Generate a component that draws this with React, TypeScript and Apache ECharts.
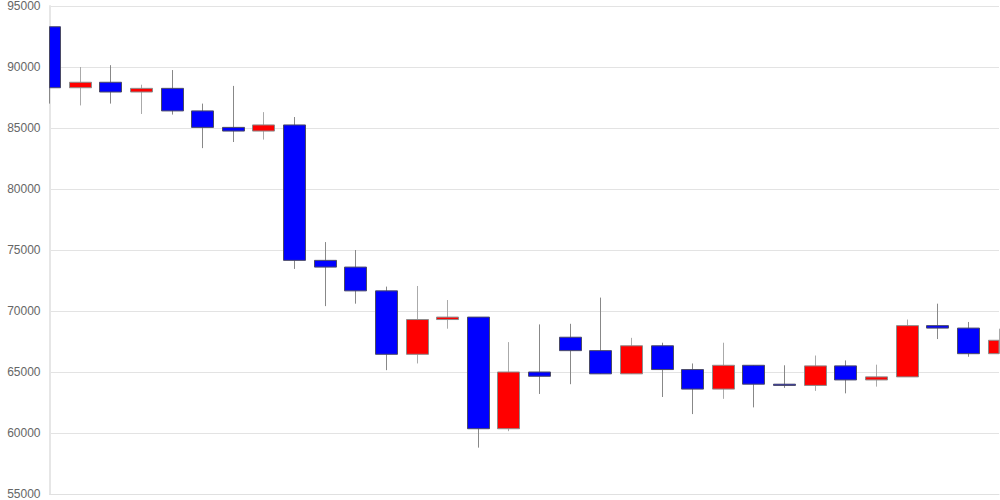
import React, { useEffect, useRef } from "react";
import * as echarts from "echarts";

const categories: string[] = [
  "1", "2", "3", "4", "5", "6", "7", "8", "9", "10",
  "11", "12", "13", "14", "15", "16", "17", "18", "19", "20",
  "21", "22", "23", "24", "25", "26", "27", "28", "29", "30",
  "31", "32",
];

const openValues: number[] = [
  93300, 88300, 88750, 87950, 88250, 86400, 85050, 84750, 85250, 74150,
  73600, 71650, 66450, 69300, 69500, 60350, 65000, 67850, 66750, 64850,
  67150, 65200, 63600, 65550, 64000, 63900, 65500, 64350, 64600, 68800,
  68600, 66500,
];
const closeValues: number[] = [
  88300, 88750, 87950, 88250, 86400, 85050, 84750, 85250, 74150, 73600,
  71650, 66450, 69300, 69500, 60350, 65000, 64650, 66750, 64850, 67150,
  65200, 63600, 65550, 64000, 63900, 65500, 64350, 64600, 68800, 68600,
  66500, 67600,
];
const lowValues: number[] = [
  87000, 86850, 87000, 86150, 86100, 83350, 83850, 84050, 73450, 70400,
  70600, 65150, 65700, 68550, 58800, 60150, 63200, 64000, 64850, 64850,
  62950, 61550, 62800, 62100, 63700, 63450, 63250, 63800, 64600, 67700,
  66250, 66500,
];
const highValues: number[] = [
  93300, 90000, 90150, 88550, 89750, 87000, 88450, 86300, 85900, 75650,
  75000, 72000, 72050, 70900, 69500, 67450, 68900, 68950, 71100, 67800,
  67400, 65700, 67400, 65550, 65550, 66350, 65950, 65600, 69300, 70600,
  69100, 68550,
];

const yMin = 55000;
const yMax = 95000;
const yInterval = 5000;

const UP_FILL = "#ff0000";
const DOWN_FILL = "#0000ff";
const UP_BORDER = "#8c8c8c";
const DOWN_BORDER = "#4a4a66";
const UP_WICK = "#aaaaaa";
const DOWN_WICK = "#888888";

export default function App() {
  const ref = useRef<HTMLDivElement>(null);

  useEffect(() => {
    if (!ref.current) return;
    const chart = echarts.init(ref.current, null, { renderer: "svg" });
    const data = categories.map((_, i) => [
      i,
      openValues[i],
      closeValues[i],
      lowValues[i],
      highValues[i],
    ]);

    const renderItem = (params: any, api: any) => {
      const xi = api.value(0);
      const open = api.value(1);
      const close = api.value(2);
      const low = api.value(3);
      const high = api.value(4);
      const pOpen = api.coord([xi, open]);
      const pClose = api.coord([xi, close]);
      const pLow = api.coord([xi, low]);
      const pHigh = api.coord([xi, high]);
      const cx = Math.round(pOpen[0] - 0.5) + 0.5;
      const w = 22;
      const up = close > open;
      const top = Math.min(pOpen[1], pClose[1]);
      const bottom = Math.max(pOpen[1], pClose[1]);
      const cs = params.coordSys;
      const bodyRaw = {
        x: cx - w / 2,
        y: top,
        width: w,
        height: Math.max(bottom - top, 1),
      };
      const body = echarts.graphic.clipRectByRect(bodyRaw, {
        x: cs.x,
        y: cs.y,
        width: cs.width,
        height: cs.height,
      });
      const children: any[] = [
        {
          type: "line",
          shape: { x1: cx, y1: pHigh[1], x2: cx, y2: pLow[1] },
          style: { stroke: up ? UP_WICK : DOWN_WICK, lineWidth: 1 },
        },
      ];
      if (body) {
        children.push({
          type: "rect",
          shape: body,
          style: {
            fill: up ? UP_FILL : DOWN_FILL,
            stroke: up ? UP_BORDER : DOWN_BORDER,
            lineWidth: 1,
          },
        });
      }
      return { type: "group", children };
    };

    chart.setOption({
      animation: false,
      backgroundColor: "#ffffff",
      grid: { left: 49.5, right: 1, top: 6, bottom: 5.5, containLabel: false },
      xAxis: {
        type: "category",
        data: categories,
        boundaryGap: false,
        axisLabel: { show: false },
        axisTick: { show: false },
        axisLine: { show: true, lineStyle: { color: "#e0e0e0", width: 1 } },
        splitLine: { show: false },
      },
      yAxis: {
        type: "value",
        min: yMin,
        max: yMax,
        interval: yInterval,
        axisLine: { show: true, lineStyle: { color: "#e6e6e6", width: 2 } },
        axisTick: { show: false },
        axisLabel: {
          color: "#666666",
          fontSize: 12,
          fontFamily: "Liberation Sans, Arial, sans-serif",
          margin: 9,
          formatter: (v: number) => String(v),
        },
        splitLine: { show: true, lineStyle: { color: "#e3e3e3", width: 1 } },
      },
      series: [
        {
          type: "custom",
          renderItem,
          data,
          clip: true,
          encode: { x: 0, y: [1, 2, 3, 4] },
        },
      ],
    });
    return () => chart.dispose();
  }, []);

  return (
    <div
      ref={ref}
      style={{ position: "fixed", left: 0, top: 0, width: 1000, height: 500 }}
    />
  );
}
